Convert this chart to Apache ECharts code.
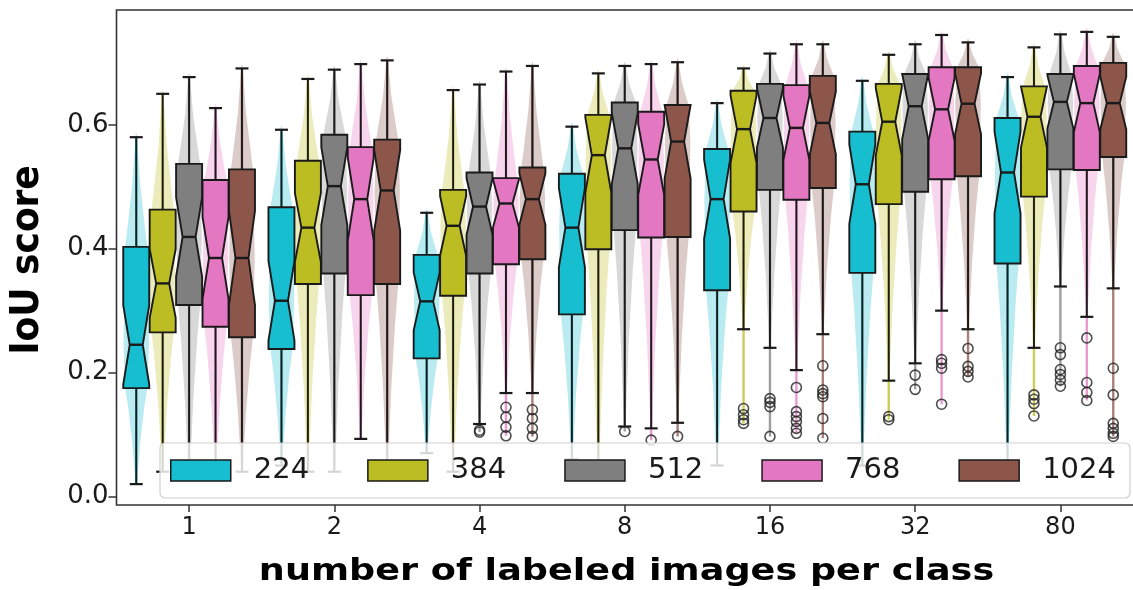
<!DOCTYPE html>
<html><head><meta charset="utf-8">
<script src="https://cdn.jsdelivr.net/npm/echarts@6/dist/echarts.min.js"></script>
<style>html,body{margin:0;padding:0;background:#fff}#c{width:1133px;height:590px}</style>
</head><body><div id="c"></div>
<script>
// ---- data ----
const categories = ['1','2','4','8','16','32','80'];
const sizes = ['224','384','512','768','1024'];
const yTickStep = 0.2;

// one row per image size (224, 384, 512, 768, 1024), one column per category
const whiskerHigh = [
  [0.580, 0.592, 0.458, 0.597, 0.635, 0.671, 0.677],
  [0.650, 0.674, 0.656, 0.683, 0.691, 0.713, 0.725],
  [0.677, 0.689, 0.665, 0.695, 0.715, 0.730, 0.746],
  [0.627, 0.698, 0.686, 0.698, 0.730, 0.745, 0.750],
  [0.691, 0.704, 0.695, 0.701, 0.730, 0.733, 0.742]
];
const q3 = [
  [0.403, 0.467, 0.390, 0.521, 0.561, 0.589, 0.611],
  [0.463, 0.542, 0.495, 0.616, 0.655, 0.666, 0.662],
  [0.537, 0.584, 0.523, 0.636, 0.666, 0.682, 0.682],
  [0.511, 0.564, 0.514, 0.621, 0.664, 0.693, 0.695],
  [0.528, 0.576, 0.531, 0.632, 0.679, 0.693, 0.700]
];
const median = [
  [0.245, 0.316, 0.315, 0.434, 0.480, 0.504, 0.523],
  [0.344, 0.434, 0.437, 0.551, 0.593, 0.605, 0.613],
  [0.419, 0.501, 0.468, 0.562, 0.611, 0.630, 0.637],
  [0.385, 0.480, 0.473, 0.544, 0.595, 0.625, 0.635],
  [0.385, 0.494, 0.480, 0.573, 0.603, 0.634, 0.635]
];
const q1 = [
  [0.175, 0.238, 0.223, 0.294, 0.333, 0.361, 0.376],
  [0.265, 0.343, 0.324, 0.399, 0.460, 0.472, 0.484],
  [0.309, 0.360, 0.360, 0.430, 0.495, 0.492, 0.528],
  [0.274, 0.325, 0.375, 0.418, 0.479, 0.512, 0.527],
  [0.257, 0.343, 0.383, 0.419, 0.498, 0.517, 0.548]
];
const whiskerLow = [
  [0.020, 0.050, 0.070, 0.060, 0.050, 0.050, 0.050],
  [0.040, 0.040, 0.040, 0.040, 0.270, 0.187, 0.240],
  [0.030, 0.040, 0.117, 0.113, 0.240, 0.215, 0.339],
  [0.040, 0.093, 0.167, 0.110, 0.204, 0.300, 0.290],
  [0.040, 0.040, 0.167, 0.119, 0.262, 0.270, 0.336]
];
const outliers = [
  [[], [], [], [], [], [], []],
  [[], [], [], [], [0.142, 0.132, 0.124, 0.118], [0.129, 0.124], [0.164, 0.157, 0.150, 0.130]],
  [[], [], [0.107, 0.104], [0.105], [0.158, 0.152, 0.145, 0.097], [0.196, 0.173], [0.240, 0.229, 0.205, 0.197, 0.188, 0.178]],
  [[], [], [0.144, 0.128, 0.112, 0.098], [0.091], [0.176, 0.137, 0.129, 0.121, 0.110, 0.102], [0.221, 0.215, 0.207, 0.149], [0.256, 0.184, 0.168, 0.155]],
  [[], [], [0.140, 0.126, 0.110, 0.097], [0.097], [0.211, 0.172, 0.166, 0.161, 0.126, 0.094], [0.239, 0.210, 0.202, 0.193], [0.207, 0.164, 0.118, 0.110, 0.102, 0.097]]
];

// ---- styles ----
const colors = ['#17becf', '#bcbd22', '#7f7f7f', '#e377c2', '#8c564b'];
const FONT = 'DejaVu Sans';
const EDGE = '#1a1a1a';
const PITCH = 0.182, BOXW = 0.179, NOTCH = 0.28;
function off(k) { return (k - 2) * PITCH; }

function violinRender(k) {
  return function (params, api) {
    const g = api.value(0), lo = api.value(1), a = api.value(2), m = api.value(3), b = api.value(4), hi = api.value(5), vlo = api.value(6);
    const xc = g + off(k);
    const cx = api.coord([xc, m])[0];
    const half = api.size([BOXW, 0])[0] / 2;
    const y = v => api.coord([xc, v])[1];
    const prof = [[hi + 0.006, 0.04], [b + (hi - b) * 0.55, 0.32], [b + (hi - b) * 0.2, 0.65], [b, 0.85], [m, 0.98], [a, 0.85],
      [a - (a - lo) * 0.2, 0.62], [a - (a - lo) * 0.55, 0.32], [lo, 0.05]];
    const right = prof.map(p => [cx + p[1] * half, y(p[0])]);
    const left = prof.slice().reverse().map(p => [cx - p[1] * half, y(p[0])]);
    return {
      type: 'group', children: [
        { type: 'polygon', shape: { points: right.concat(left) }, style: { fill: colors[k], opacity: 0.3 } },
        { type: 'line', shape: { x1: cx, y1: y(vlo), x2: cx, y2: y(hi) }, style: { stroke: colors[k], lineWidth: 2.4, opacity: 0.75 } }
      ]
    };
  };
}

function boxRender(k) {
  return function (params, api) {
    const g = api.value(0), lo = api.value(1), a = api.value(2), m = api.value(3), b = api.value(4), hi = api.value(5);
    const xc = g + off(k);
    const cx = api.coord([xc, m])[0];
    const half = api.size([BOXW, 0])[0] / 2;
    const y = v => api.coord([xc, v])[1];
    const nh = NOTCH * (b - a);
    const yb = y(b), ya = y(a), ym = y(m);
    const yUp = Math.max(yb, y(m + nh));
    const yDn = Math.min(ya, y(m - nh));
    const x0 = cx - half, x1 = cx + half, nx = half * 0.5;
    const pts = [[x0, yb], [x1, yb], [x1, yUp], [cx + nx, ym], [x1, yDn], [x1, ya], [x0, ya], [x0, yDn], [cx - nx, ym], [x0, yUp]];
    const ln = { stroke: EDGE, lineWidth: 1.9 };
    return {
      type: 'group', children: [
        { type: 'line', shape: { x1: cx, y1: yb, x2: cx, y2: y(hi) }, style: ln },
        { type: 'line', shape: { x1: cx, y1: ya, x2: cx, y2: y(lo) }, style: ln },
        { type: 'line', shape: { x1: cx - half / 2, y1: y(hi), x2: cx + half / 2, y2: y(hi) }, style: { stroke: EDGE, lineWidth: 2.2 } },
        { type: 'line', shape: { x1: cx - half / 2, y1: y(lo), x2: cx + half / 2, y2: y(lo) }, style: { stroke: EDGE, lineWidth: 2.2 } },
        { type: 'polygon', shape: { points: pts }, style: { fill: colors[k], stroke: EDGE, lineWidth: 1.9 } },
        { type: 'line', shape: { x1: cx - nx, y1: ym, x2: cx + nx, y2: ym }, style: { stroke: EDGE, lineWidth: 2.4 } }
      ]
    };
  };
}

const series = [];
sizes.forEach((s, k) => {
  const data = categories.map((c, g) => {
    const vlo = Math.min(whiskerLow[k][g], ...outliers[k][g]);
    return [g, whiskerLow[k][g], q1[k][g], median[k][g], q3[k][g], whiskerHigh[k][g], vlo];
  });
  series.push({ type: 'custom', name: 'violin ' + s, z: 1, silent: true, xAxisIndex: 0, yAxisIndex: 0,
    encode: { x: 0, y: [1, 5] }, renderItem: violinRender(k), data: data });
});
sizes.forEach((s, k) => {
  const data = categories.map((c, g) => [g, whiskerLow[k][g], q1[k][g], median[k][g], q3[k][g], whiskerHigh[k][g]]);
  series.push({ type: 'custom', name: s, z: 2, xAxisIndex: 0, yAxisIndex: 0, itemStyle: { color: colors[k] },
    encode: { x: 0, y: [1, 5] }, renderItem: boxRender(k), data: data });
});
sizes.forEach((s, k) => {
  const data = [];
  categories.forEach((c, g) => outliers[k][g].forEach(v => data.push([g + off(k), v])));
  series.push({ type: 'scatter', name: s + ' outliers', z: 3, xAxisIndex: 0, yAxisIndex: 0, symbol: 'circle', symbolSize: 10,
    itemStyle: { color: 'rgba(0,0,0,0)', borderColor: '#222', borderWidth: 1.6 }, data: data });
});

const chart = echarts.init(document.getElementById('c'), null, { renderer: 'canvas' });
chart.setOption({
  animation: false,
  backgroundColor: '#fff',
  // y axis runs 0 .. 0.8; the plot frame (drawn below) starts at 0.785
  grid: { left: 116.5, right: -5.5, top: 0.9, bottom: 93.5, containLabel: false },
  xAxis: [
    { type: 'value', min: -0.5, max: 6.5, show: false, axisLine: { onZero: false } },
    { type: 'category', data: categories, position: 'bottom', offset: 8.5, boundaryGap: true,
      axisLine: { show: false, onZero: false },
      axisTick: { show: true, alignWithLabel: true, length: 7, lineStyle: { color: '#333', width: 1.5 } },
      axisLabel: { fontFamily: FONT, fontSize: 24, color: '#1a1a1a', margin: 11 } }
  ],
  yAxis: { type: 'value', min: 0, max: 0.8, interval: yTickStep, position: 'left',
    axisLine: { show: false, onZero: false }, splitLine: { show: false },
    axisTick: { show: true, length: 8, lineStyle: { color: '#333', width: 1.5 } },
    axisLabel: { fontFamily: FONT, fontSize: 26, color: '#1a1a1a', margin: 8, showMaxLabel: false,
      formatter: v => (v > 0.7 ? '' : v.toFixed(1)) } },
  legend: {
    left: 160, top: 443, orient: 'horizontal', padding: [13, 14, 13, 10], itemGap: 58,
    itemWidth: 60, itemHeight: 21, selectedMode: false,
    backgroundColor: 'rgba(255,255,255,0.82)', borderColor: '#cfcfcf', borderWidth: 1.2, borderRadius: 5,
    textStyle: { fontFamily: FONT, fontSize: 29, color: '#1a1a1a', padding: [0, 0, 0, 18], lineHeight: 23 },
    data: sizes.map((s, k) => ({ name: s, icon: 'rect', itemStyle: { color: colors[k], borderColor: EDGE, borderWidth: 1.5 } }))
  },
  graphic: [
    { type: 'rect', z: 50, silent: true, shape: { x: 95, y: 0, width: 30, height: 8 }, style: { fill: '#fff' } },
    { type: 'rect', z: 51, silent: true, shape: { x: 116.5, y: 10, width: 1100, height: 495 },
      style: { fill: 'none', stroke: '#333', lineWidth: 1.6 } },
    { type: 'text', z: 5, x: 28, y: 260, rotation: Math.PI / 2, scaleY: 1.1,
      style: { text: 'IoU score', fontFamily: FONT, fontWeight: 'bold', fontSize: 36, fill: '#000', align: 'center', verticalAlign: 'middle' } },
    { type: 'text', z: 5, x: 626.5, y: 572, scaleX: 1.18,
      style: { text: 'number of labeled images per class', fontFamily: FONT, fontWeight: 'bold', fontSize: 31, fill: '#000', align: 'center', verticalAlign: 'middle' } }
  ],
  series: series
});
</script></body></html>
